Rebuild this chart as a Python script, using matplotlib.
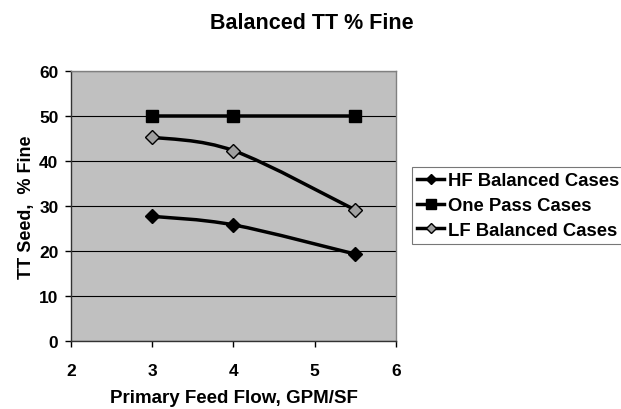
import numpy as np
import matplotlib.pyplot as plt
from matplotlib.path import Path
from matplotlib.patches import PathPatch
from matplotlib.lines import Line2D

plt.rcParams['font.family'] = ['Liberation Sans', 'DejaVu Sans']
plt.rcParams['font.weight'] = 'bold'

# data
flow = [3, 4, 5.5]
hf_balanced = [27.7, 25.8, 19.3]
one_pass = [50, 50, 50]
lf_balanced = [45.3, 42.3, 29.1]

labels = ['HF Balanced Cases', 'One Pass Cases', 'LF Balanced Cases']


def smooth_path(ax, xs, ys, tension=0.5):
    # Excel-style smoothed line: cubic bezier segments through the points (in pixel space)
    pts = ax.transData.transform(np.column_stack([xs, ys]))
    n = len(pts)
    verts = [pts[0]]
    codes = [Path.MOVETO]
    for i in range(n - 1):
        p0 = pts[i - 1] if i > 0 else pts[i]
        p1 = pts[i]
        p2 = pts[i + 1]
        p3 = pts[i + 2] if i + 2 < n else pts[i + 1]
        c1 = p1 + (p2 - p0) * tension / 3
        c2 = p2 - (p3 - p1) * tension / 3
        verts += [c1, c2, p2]
        codes += [Path.CURVE4] * 3
    verts = ax.transData.inverted().transform(np.array(verts))
    return Path(verts, codes)


fig = plt.figure(figsize=(6.21, 4.10), dpi=100)
ax = fig.add_axes([0.1143, 0.1659, 0.5234, 0.6585])
ax.set_facecolor('#c0c0c0')
ax.set_xlim(2, 6)
ax.set_ylim(0, 60)
ax.set_xticks([2, 3, 4, 5, 6])
ax.set_yticks(range(0, 61, 10))
ax.yaxis.grid(True, color='black', linewidth=0.8)
ax.set_axisbelow(True)
for s in ax.spines.values():
    s.set_color('#808080')
    s.set_linewidth(1)
for s in ['left', 'bottom']:
    ax.spines[s].set_color('#333333')
ax.tick_params(axis='both', labelsize=12.5, colors='black', length=4, width=1, direction='out')
ax.tick_params(axis='x', pad=12)
ax.tick_params(axis='y', pad=5)

fig.canvas.draw()

series = [
    (hf_balanced, 'D', 'black', 7),
    (one_pass, 's', 'black', 9),
    (lf_balanced, 'D', '#a0a0a0', 7),
]
handles = []
for (ys, mk, fc, ms), lab in zip(series, labels):
    ax.add_patch(PathPatch(smooth_path(ax, flow, ys), facecolor='none',
                           edgecolor='black', linewidth=2.5, zorder=3))
    ax.plot(flow, ys, linestyle='none', marker=mk, markersize=ms,
            markerfacecolor=fc, markeredgecolor='black', markeredgewidth=1, zorder=4)
    handles.append(Line2D([], [], color='black', linewidth=2.5, marker=mk,
                          markersize=ms - 2, markerfacecolor=fc,
                          markeredgecolor='black', label=lab))

ax.set_xlabel('Primary Feed Flow, GPM/SF', fontsize=13.5, fontweight='bold', labelpad=8)
ax.set_ylabel('TT Seed,  % Fine', fontsize=13, fontweight='bold', labelpad=3)
fig.text(0.502, 0.943, 'Balanced TT % Fine', ha='center', va='center',
         fontsize=15.5, fontweight='bold')

leg = fig.legend(handles=handles, loc='center left', bbox_to_anchor=(0.663, 0.496),
                 frameon=True, fancybox=False, edgecolor='#555555', fontsize=13.3,
                 handlelength=1.45, handletextpad=0.2, borderpad=0.3,
                 labelspacing=0.42, borderaxespad=0)
leg.get_frame().set_linewidth(0.8)

fig.savefig('out.png', dpi=100)
